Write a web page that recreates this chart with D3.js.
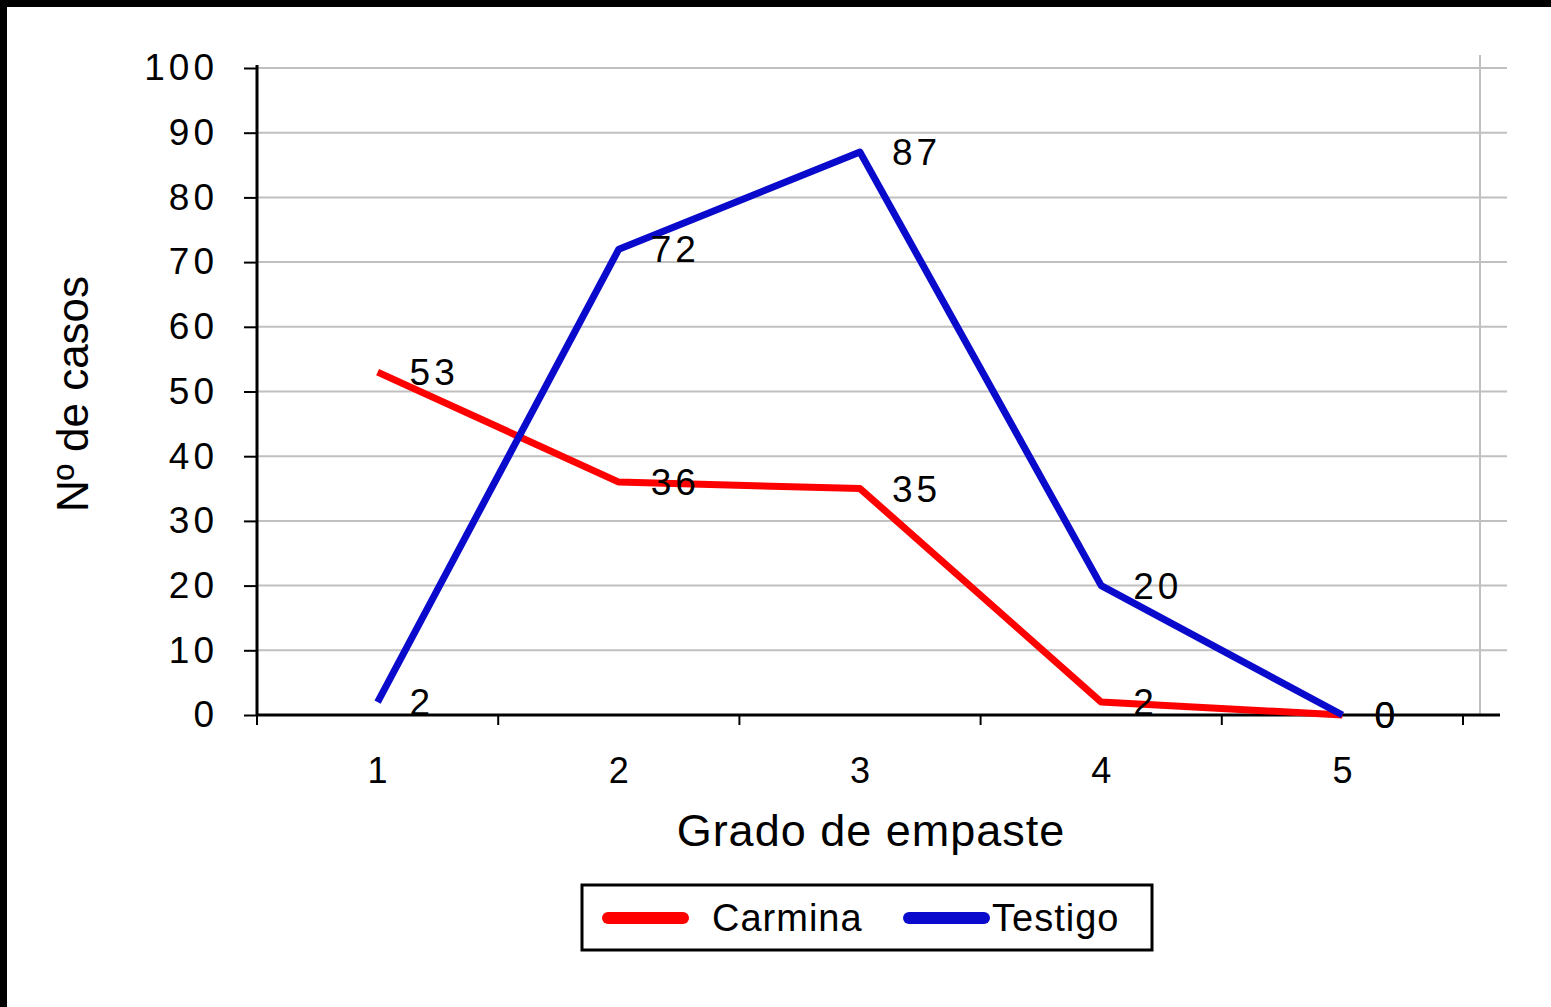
<!DOCTYPE html>
<html>
  <head>
    <meta charset="utf-8">
    <title>Grado de empaste</title>
    <script src="https://cdn.jsdelivr.net/npm/d3@7"></script>
    <style>
      html, body { margin: 0; padding: 0; background: #fff; }
      svg text { font-family: "Liberation Sans", Arial, sans-serif; fill: #000; }
    </style>
  </head>
  <body>
    <svg width="1551" height="1007"></svg>
    <script>
      // data
      var grados = [1, 2, 3, 4, 5];
      var carmina = [53, 36, 35, 2, 0];
      var testigo = [2, 72, 87, 20, 0];
      var yTicks = [0, 10, 20, 30, 40, 50, 60, 70, 80, 90, 100];
      var seriesNames = ["Carmina", "Testigo"];
      var seriesColors = ["#ff0000", "#0a0acc"];

      var svg = d3.select("svg");

      // white page with black frame top and left
      svg.append("rect").attr("width", 1551).attr("height", 1007).attr("fill", "#000");
      svg.append("rect").attr("x", 7).attr("y", 7).attr("width", 1544).attr("height", 1000).attr("fill", "#fff");

      var pLeft = 257, pRight = 1463, pTop = 68, pBottom = 715;

      var x = d3.scaleBand().domain(grados).range([pLeft, pRight]);
      var y = d3.scaleLinear().domain([0, 100]).range([pBottom, pTop]);

      // horizontal grid
      svg.append("g").selectAll("line")
        .data(yTicks.filter(function(d) { return d > 0; }))
        .enter().append("line")
        .attr("x1", pLeft).attr("x2", 1507)
        .attr("y1", function(d) { return y(d); })
        .attr("y2", function(d) { return y(d); })
        .attr("stroke", "#c0c0c0").attr("stroke-width", 2);

      // right gray border of plot area
      svg.append("line")
        .attr("x1", 1480).attr("x2", 1480).attr("y1", 55).attr("y2", pBottom)
        .attr("stroke", "#c0c0c0").attr("stroke-width", 2);

      // y axis
      var yAxis = svg.append("g")
        .attr("transform", "translate(" + pLeft + ",0)")
        .call(d3.axisLeft(y).tickValues(yTicks).tickSize(13).tickPadding(26));
      yAxis.select(".domain").attr("stroke", "#000").attr("stroke-width", 3)
        .attr("d", "M0," + (pTop - 3) + "V" + pBottom);
      yAxis.selectAll(".tick line").attr("stroke", "#000").attr("stroke-width", 2);
      yAxis.selectAll(".tick text").style("font-size", "37px").style("letter-spacing", "4px")
        .attr("font-family", null);

      // x axis
      var xAxis = svg.append("g")
        .attr("transform", "translate(0," + pBottom + ")")
        .call(d3.axisBottom(x).tickSize(0).tickPadding(55));
      xAxis.select(".domain").attr("stroke", "#000").attr("stroke-width", 3)
        .attr("d", "M" + pLeft + ",0H1500");
      xAxis.selectAll(".tick text").style("font-size", "36px").attr("dy", "0.36em")
        .attr("font-family", null);
      // tick marks between categories
      xAxis.selectAll(".sep")
        .data(grados.concat([6]))
        .enter().append("line")
        .attr("x1", function(d, i) { return pLeft + i * x.bandwidth(); })
        .attr("x2", function(d, i) { return pLeft + i * x.bandwidth(); })
        .attr("y1", 0).attr("y2", 10)
        .attr("stroke", "#000").attr("stroke-width", 2);

      // axis titles
      svg.append("text")
        .attr("transform", "translate(88,394) rotate(-90)")
        .attr("text-anchor", "middle")
        .style("font-size", "44px")
        .text("Nº de casos");
      svg.append("text")
        .attr("x", 871).attr("y", 846)
        .attr("text-anchor", "middle")
        .style("font-size", "45px")
        .style("letter-spacing", "1px")
        .text("Grado de empaste");

      // lines
      var cx = function(i) { return x(grados[i]) + x.bandwidth() / 2; };
      var line = d3.line()
        .x(function(d, i) { return cx(i); })
        .y(function(d) { return y(d); });

      [carmina, testigo].forEach(function(s, k) {
        svg.append("path")
          .datum(s)
          .attr("d", line)
          .attr("fill", "none")
          .attr("stroke", seriesColors[k])
          .attr("stroke-width", 7)
          .attr("stroke-linejoin", "round");
      });

      // value labels
      [carmina, testigo].forEach(function(s) {
        svg.append("g").selectAll("text")
          .data(s)
          .enter().append("text")
          .attr("x", function(d, i) { return cx(i) + 32; })
          .attr("y", function(d) { return y(d); })
          .attr("dy", "0.36em")
          .style("font-size", "37px")
          .style("letter-spacing", "4px")
          .text(function(d) { return d; });
      });

      // legend
      var lg = svg.append("g");
      lg.append("rect")
        .attr("x", 582).attr("y", 885).attr("width", 570).attr("height", 65)
        .attr("fill", "#fff").attr("stroke", "#000").attr("stroke-width", 3);
      var legX = [603, 904], textX = [712, 992];
      seriesNames.forEach(function(n, k) {
        lg.append("line")
          .attr("x1", legX[k] + 5).attr("x2", legX[k] + 80)
          .attr("y1", 918).attr("y2", 918)
          .attr("stroke", seriesColors[k]).attr("stroke-width", 12)
          .attr("stroke-linecap", "round");
        lg.append("text")
          .attr("x", textX[k]).attr("y", 917).attr("dy", "0.36em")
          .style("font-size", "38px")
          .style("letter-spacing", "1px")
          .text(n);
      });
    </script>
  </body>
</html>
